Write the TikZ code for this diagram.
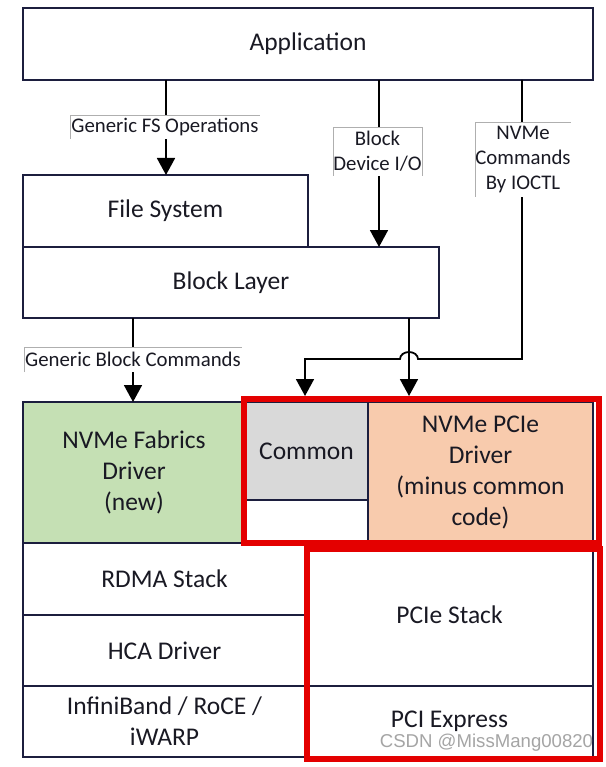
\documentclass[tikz,border=0pt]{standalone}
\usepackage{fontspec}
\setmainfont{Carlito}
\newfontfamily\wmfont{Liberation Sans}
\usetikzlibrary{arrows.meta}
\definecolor{navy}{RGB}{28,30,62}
\definecolor{txt}{RGB}{25,25,35}
\definecolor{fabgreen}{RGB}{197,224,180}
\definecolor{comgray}{RGB}{217,217,217}
\definecolor{peach}{RGB}{248,203,173}
\definecolor{hlred}{RGB}{228,0,0}
\definecolor{lblgray}{RGB}{175,175,175}
\definecolor{wmgray}{RGB}{165,165,165}
\begin{document}
\begin{tikzpicture}[x=1pt,y=-1pt,
  box/.style={draw=navy, line width=1.6pt, anchor=north west, inner sep=0pt, outer sep=0pt,
    text=txt, align=center, font=\fontsize{25.5}{31}\selectfont},
  lbl/.style={fill=white, inner sep=0pt, outer sep=0pt, text=txt, align=center,
    font=\fontsize{20.8}{25}\selectfont},
  lblline/.style={draw=lblgray, line width=0.8pt},
  conn/.style={draw=black, line width=1.8pt, -{Triangle[width=18pt,length=17pt]}},
  hlbox/.style={draw=hlred, line width=6pt}]
\useasboundingbox (0,0) rectangle (605,767);
\fill[white] (0,0) rectangle (605,767);

% boxes
\node[box, minimum width=570pt, minimum height=72pt] (app) at (23,8) {Application};
\node[box, minimum width=285pt, minimum height=72pt] (fs) at (23,175) {File System};
\node[box, minimum width=416pt, minimum height=71pt] (bl) at (23,247) {Block Layer};
\node[box, fill=fabgreen, minimum width=222pt, minimum height=141pt] (fab) at (23,402) {NVMe Fabrics\\Driver\\(new)};
\node[box, fill=white, minimum width=123pt, minimum height=141pt] (comw) at (245,402) {};
\node[box, fill=comgray, minimum width=123pt, minimum height=98pt] (com) at (245,402) {Common};
\node[box, fill=peach, minimum width=225pt, minimum height=141pt] (pcie) at (368,402) {NVMe PCIe\\Driver\\(minus common\\code)};
\node[box, minimum width=283pt, minimum height=72pt] (rdma) at (23,543) {RDMA Stack};
\node[box, minimum width=283pt, minimum height=71pt] (hca) at (23,615) {HCA Driver};
\node[box, minimum width=283pt, minimum height=71pt] (ib) at (23,686) {InfiniBand / RoCE /\\iWARP};
\node[box, minimum width=287pt, minimum height=143pt] (pstack) at (306,543) {PCIe Stack};
\node[box, minimum width=287pt, minimum height=71pt] (pciex) at (306,686) {PCI Express};

% connector x positions
\coordinate (cA) at (166,0);
\coordinate (cB) at (379,0);
\coordinate (cC) at (522,0);
\coordinate (cD) at (305,0);
\coordinate (cE) at (409,0);
\coordinate (cF) at (133,0);
\coordinate (cJ) at (0,359);

% connectors
\draw[conn] (app.south -| cA) -- (fs.north -| cA);
\draw[conn] (app.south -| cB) -- (bl.north -| cB);
\draw[conn, shorten >=6pt] (app.south -| cC) -- (cC |- cJ) -- ([xshift=9pt]cE |- cJ)
  arc[start angle=0, end angle=180, x radius=9pt, y radius=7pt] -- (cD |- cJ) -- (com.north -| cD);
\draw[conn, shorten >=6pt] (bl.south -| cE) -- (pcie.north -| cE);
\draw[conn] (bl.south -| cF) -- (fab.north -| cF);

% labels
\node[lbl, minimum width=190pt, minimum height=24pt] (l1) at (165,127) {Generic FS Operations};
\draw[lblline] (l1.south west) |- (l1.north east);
\node[lbl, minimum width=89pt, minimum height=49pt] (l2) at (377.5,151.5) {Block\\Device I/O};
\draw[lblline] (l2.south west) |- (l2.north east) -- (l2.south east);
\node[lbl, minimum width=96pt, minimum height=75pt] (l3) at (523,159.5) {NVMe\\Commands\\By IOCTL};
\draw[lblline] (l3.south west) |- (l3.north east);
\node[lbl, minimum width=218pt, minimum height=25pt] (l4) at (133,359.5) {Generic Block Commands};
\draw[lblline] (l4.south west) |- (l4.north east);

% highlight frames
\draw[hlbox] (244,398.5) rectangle (599,542.5);
\draw[hlbox] (306.5,549) rectangle (600,758.5);

% watermark
\node[text=wmgray, font=\wmfont\fontsize{18.6}{20}\selectfont, inner sep=0pt] (wm) at (486.5,743) {CSDN @MissMang00820};
\end{tikzpicture}
\end{document}
